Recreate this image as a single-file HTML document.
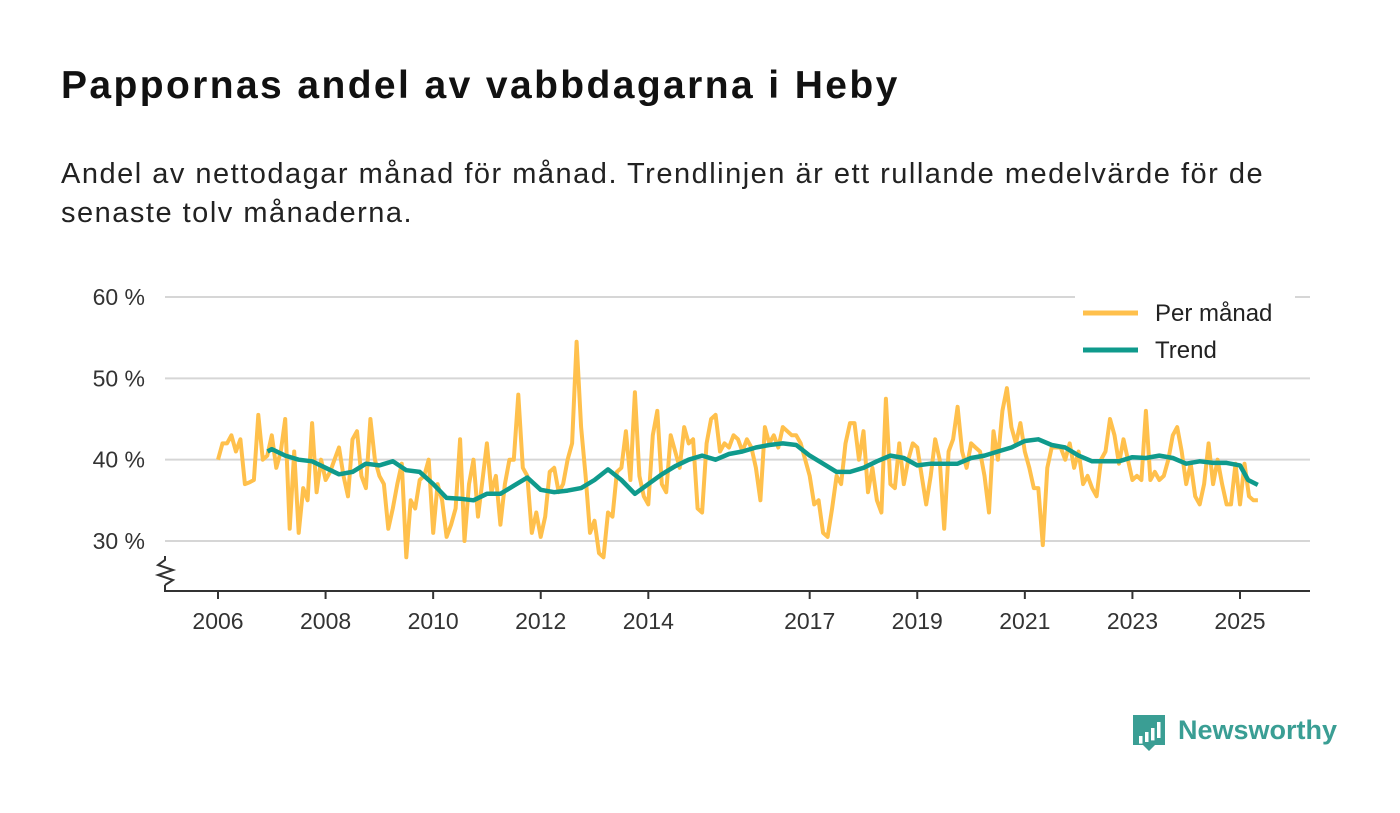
<!DOCTYPE html>
<html><head><meta charset="utf-8"><style>
body{margin:0;width:1400px;height:813px;background:#fff;font-family:"Liberation Sans","DejaVu Sans",sans-serif;overflow:hidden}
#t{position:absolute;left:61px;top:64px;font-size:39px;font-weight:bold;color:#111;letter-spacing:2.4px}
#s{position:absolute;left:61px;top:155px;font-size:29px;line-height:39px;color:#222;width:1245px;letter-spacing:1.5px}
svg{position:absolute;left:0;top:0}
</style></head><body>
<div id="t">Pappornas andel av vabbdagarna i Heby</div>
<div id="s">Andel av nettodagar månad för månad. Trendlinjen är ett rullande medelvärde för de senaste tolv månaderna.</div>
<svg id="c" width="1400" height="813"></svg>
<script>
const startYear=2006;
const monthly=[40,42,42,43,41,42.5,37,37.2,37.5,45.5,40,40.5,
43,39,41,45,31.5,41,31,36.5,35,44.5,36,40,
37.5,38.5,40,41.5,38,35.5,42.5,43.5,38,36.5,45,40,
38,37,31.5,34,37,39.5,28,35,34,37.5,38,40,
31,37,35,30.5,32,34,42.5,30,37,40,33,37.5,
42,36,38,32,37,40,40,48,39,38,31,33.5,
30.5,33,38.5,39,36,37,40,42,54.5,44,38,31,
32.5,28.5,28,33.5,33,38.5,39,43.5,37.5,48.3,38,35.5,
34.5,43,46,37,36,43,41,39,44,42,42.5,34,
33.5,42,45,45.5,41,42,41.5,43,42.5,41,42.5,41.5,
39,35,44,42,43,41.5,44,43.5,43,43,42,40,
38,34.5,35,31,30.5,34,38,37,42,44.5,44.5,40,
43.5,36,39,35,33.5,47.5,37,36.5,42,37,40,42,
41.5,38,34.5,38,42.5,40,31.5,41,42.5,46.5,41,39,
42,41.5,41,38,33.5,43.5,40,46,48.8,44,42,44.5,
41,39,36.5,36.5,29.5,39,41.5,41.5,41.5,40,42,39,
41,37,38,36.5,35.5,40,41,45,43,39.5,42.5,40,
37.5,38,37.5,46,37.5,38.5,37.5,38,40,43,44,41,
37,39.5,35.5,34.5,37,42,37,40,37,34.5,34.5,39.5,
34.5,39.5,35.5,35,35];
const trendDates=[2006.92,2007,2007.25,2007.5,2007.75,2008,2008.25,2008.5,2008.75,2009,2009.25,2009.5,2009.75,2010,2010.25,2010.5,2010.75,2011,2011.25,2011.5,2011.75,2012,2012.25,2012.5,2012.75,2013,2013.25,2013.5,2013.75,2014,2014.25,2014.5,2014.75,2015,2015.25,2015.5,2015.75,2016,2016.25,2016.5,2016.75,2017,2017.25,2017.5,2017.75,2018,2018.25,2018.5,2018.75,2019,2019.25,2019.5,2019.75,2020,2020.25,2020.5,2020.75,2021,2021.25,2021.5,2021.75,2022,2022.25,2022.5,2022.75,2023,2023.25,2023.5,2023.75,2024,2024.25,2024.5,2024.75,2025,2025.15,2025.33];
const trendValues=[41,41.3,40.5,40,39.8,39,38.2,38.5,39.5,39.3,39.8,38.7,38.5,37,35.3,35.2,35,35.8,35.8,36.8,37.8,36.3,36,36.2,36.5,37.5,38.8,37.5,35.8,37,38.2,39.2,40,40.5,40,40.7,41,41.5,41.8,42,41.8,40.5,39.5,38.5,38.5,39,39.8,40.5,40.2,39.3,39.5,39.5,39.5,40.2,40.5,41,41.5,42.3,42.5,41.8,41.5,40.5,39.8,39.8,39.8,40.3,40.2,40.5,40.2,39.5,39.8,39.6,39.6,39.3,37.5,36.9];
const yTicks=[30,40,50,60];
const xTicks=[2006,2008,2010,2012,2014,2017,2019,2021,2023,2025];
const NS='http://www.w3.org/2000/svg',svg=document.getElementById('c');
const X=t=>218+(t-2006)*(1240-218)/19;
const Y=v=>541-(v-30)*(541-297)/30;
function el(tag,at,p){const e=document.createElementNS(NS,tag);for(const k in at)e.setAttribute(k,at[k]);(p||svg).appendChild(e);return e;}
yTicks.forEach(v=>{
 const l=el('line',{x1:165,x2:1310,y1:Y(v),y2:Y(v),stroke:'#d6d6d6','stroke-width':2});
 
 
 const t=el('text',{x:145,y:Y(v)+8,'text-anchor':'end','font-size':23,fill:'#333'});t.textContent=v+' %';
 
 
});
const ax=el('path',{d:'M165,585 L165,591 L1310,591',fill:'none',stroke:'#333','stroke-width':2});


const br=el('path',{d:'M165,556 L165,560 L158,565 L173,570 L158,575 L173,580 L165,585',fill:'none',stroke:'#333','stroke-width':2});


xTicks.forEach(y=>{
 el('line',{x1:X(y),x2:X(y),y1:591,y2:599,stroke:'#333','stroke-width':2});
 const t=el('text',{x:X(y),y:629,'text-anchor':'middle','font-size':23,fill:'#333'});t.textContent=y;
 
 
});
const mp=monthly.map((v,i)=>(i?'L':'M')+X(startYear+i/12).toFixed(1)+','+Y(v).toFixed(1)).join(' ');
const m=el('path',{d:mp,fill:'none',stroke:'#ffc04c','stroke-width':4,'stroke-linejoin':'round'});


const tp=trendValues.map((v,i)=>(i?'L':'M')+X(trendDates[i]).toFixed(1)+','+Y(v).toFixed(1)).join(' ');
const tr=el('path',{d:tp,fill:'none',stroke:'#0f9a8c','stroke-width':4.5,'stroke-linejoin':'round'});


const lg=el('g',{});


el('rect',{x:1075,y:292,width:220,height:78,fill:'#fff'},lg);
el('line',{x1:1083,x2:1138,y1:313,y2:313,stroke:'#ffc04c','stroke-width':5},lg);
el('line',{x1:1083,x2:1138,y1:350,y2:350,stroke:'#0f9a8c','stroke-width':5},lg);
let a=el('text',{x:1155,y:321,'font-size':24,fill:'#222'},lg);a.textContent='Per månad';
a=el('text',{x:1155,y:358,'font-size':24,fill:'#222'},lg);a.textContent='Trend';
const lo=el('g',{});


el('path',{d:'M1133,715 h32 v30 h-10 l-6,6 l-6,-6 h-10 z',fill:'#3a9e94'},lo);
[[1139,736,6],[1145,732,10],[1151,728,14],[1157,722,20]].forEach(b=>el('rect',{x:b[0],y:b[1],width:3.5,height:b[2]*0.6+4,fill:'#fff'},lo));
a=el('text',{x:1178,y:739,'font-size':27,'font-weight':'bold',fill:'#3a9e94'},lo);a.textContent='Newsworthy';
</script>
</body></html>
